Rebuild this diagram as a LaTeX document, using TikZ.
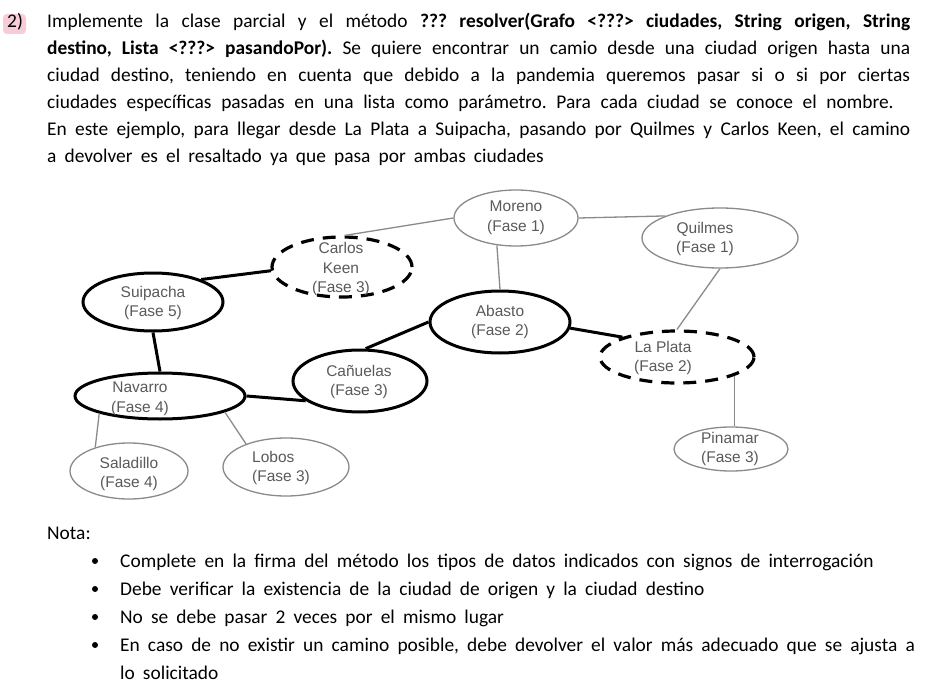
\documentclass[tikz,border=0pt]{standalone}
\usepackage{fontspec}
\usetikzlibrary{shapes.geometric}
\setmainfont{Carlito}
\newfontfamily\arialf{Liberation Sans}
\definecolor{hlpink}{HTML}{F7CCD8}
\definecolor{nodetext}{HTML}{5A5A5A}
\definecolor{thinline}{HTML}{8A8A8A}
\newcommand\bodysp{\frenchspacing\spaceskip=0.42em plus 0.4em minus 0.1em\relax}
\newcommand\parasp{\frenchspacing\spaceskip=0.5em plus 0.4em minus 0.1em\relax}
\begin{document}
\begin{tikzpicture}[x=1pt,y=-1pt,
  city/.style={ellipse,inner sep=0pt,text=nodetext,font=\arialf\fontsize{15.5}{19.5}\selectfont,align=center},
  thickcity/.style={city,draw=black,line width=3pt},
  dashcity/.style={city,draw=black,line width=3.2pt,dash pattern=on 13pt off 9pt},
  thincity/.style={city,draw=thinline,line width=1.3pt},
  lbl/.style={inner sep=0pt,text=nodetext,font=\arialf\fontsize{15.5}{19.5}\selectfont,align=center},
  pathedge/.style={draw=black,line width=3pt},
  thinedge/.style={draw=thinline,line width=1.3pt},
  body/.style={inner sep=0pt,anchor=base west,font=\fontsize{19.4}{27}\selectfont\bodysp}
]
\useasboundingbox (0,0) rectangle (932,690);
\fill[white] (0,0) rectangle (932,690);
% number highlight
\fill[hlpink,rounded corners=4pt] (3,14) rectangle (26,34);
\node[body] (num) at (7,28) {2)};
\node[body] (para) at (47,28) {\parbox[t]{863pt}{\fontsize{19.4}{27}\selectfont\bodysp
Implemente la clase parcial y el método \textbf{??? resolver(Grafo <???> ciudades, String origen, String}\linebreak
\textbf{destino, Lista <???> pasandoPor).} Se quiere encontrar un camio desde una ciudad origen hasta una\linebreak
ciudad destino, teniendo en cuenta que debido a la pandemia queremos pasar si o si por ciertas\linebreak
{\parasp ciudades específicas pasadas en una lista como parámetro. Para cada ciudad se conoce el nombre.\par}
En este ejemplo, para llegar desde La Plata a Suipacha, pasando por Quilmes y Carlos Keen, el camino\linebreak
a devolver es el resaltado ya que pasa por ambas ciudades}};

% cities
\node[thincity,minimum width=124pt,minimum height=56pt] (moreno) at (516,218) {};
\node[lbl] (morenot) at (516,218) {Moreno\\(Fase 1)};
\node[thincity,minimum width=156pt,minimum height=60pt] (quilmes) at (720,238) {};
\node[lbl] (quilmest) at (705,239) {Quilmes\\(Fase 1)};
\node[thickcity,minimum width=140pt,minimum height=62pt] (abasto) at (500,322) {};
\node[lbl] (abastot) at (500,322) {Abasto\\(Fase 2)};
\node[dashcity,minimum width=154pt,minimum height=52pt] (laplata) at (677,357) {};
\node[lbl] (laplatat) at (663,358) {La Plata\\(Fase 2)};
\node[thincity,minimum width=114pt,minimum height=44pt] (pinamar) at (731,449) {};
\node[lbl] (pinamart) at (730,449) {Pinamar\\(Fase 3)};
\node[dashcity,minimum width=140pt,minimum height=60pt] (carlos) at (342,267) {};
\node[lbl] (carlost) at (341,269) {Carlos\\Keen\\(Fase 3)};
\node[thickcity,minimum width=140pt,minimum height=58pt] (suipacha) at (153,302) {};
\node[lbl] (suipachat) at (153,303) {Suipacha\\(Fase 5)};
\node[thickcity,minimum width=170pt,minimum height=46pt] (navarro) at (160,396) {};
\node[lbl] (navarrot) at (140,399) {Navarro\\(Fase 4)};
\node[thickcity,minimum width=134pt,minimum height=62pt] (canuelas) at (360,381) {};
\node[lbl] (canuelast) at (359,382) {Cañuelas\\(Fase 3)};
\node[thincity,minimum width=118pt,minimum height=56pt] (saladillo) at (129,471) {};
\node[lbl] (saladillot) at (129,474) {Saladillo\\(Fase 4)};
\node[thincity,minimum width=126pt,minimum height=58pt] (lobos) at (286,467) {};
\node[lbl,align=left] (lobost) at (281,468) {Lobos\\(Fase 3)};

% highlighted path
\draw[pathedge] (suipacha.25) -- (carlos.183);
\draw[pathedge] (suipacha.south) -- (navarro.north);
\draw[pathedge] (navarro.east) -- (canuelas.200);
\draw[pathedge] (canuelas.80) -- (abasto.west);
\draw[pathedge] (abasto.-5) -- (laplata.160);
% other edges
\draw[thinedge] (moreno.west) -- (carlos.85);
\draw[thinedge] (moreno.235) -- (abasto.north);
\draw[thinedge] (moreno.east) -- (quilmes.158);
\draw[thinedge] (quilmes.south) -- (laplata.north);
\draw[thinedge] (laplata.-18) -- (laplata.-18 |- pinamar.north);
\draw[thinedge] (navarro.196) -- (saladillo.145);
\draw[thinedge] (navarro.-14) -- (lobos.150);

% notes
\node[body] (nota) at (47,539) {Nota:};
\foreach \yy/\nm/\tx in {
 567/n1/{Complete en la firma del método los tipos de datos indicados con signos de interrogación},
 595/n2/{Debe verificar la existencia de la ciudad de origen y la ciudad destino},
 623/n3/{No se debe pasar 2 veces por el mismo lugar},
 651/n4/{En caso de no existir un camino posible, debe devolver el valor más adecuado que se ajusta a}}{
  \node[body] (\nm) at (120,\yy) {\tx};
  \fill (95,\yy-6) circle (3pt);
}
\node[body] (n5) at (120,679) {lo solicitado};
\end{tikzpicture}
\end{document}
